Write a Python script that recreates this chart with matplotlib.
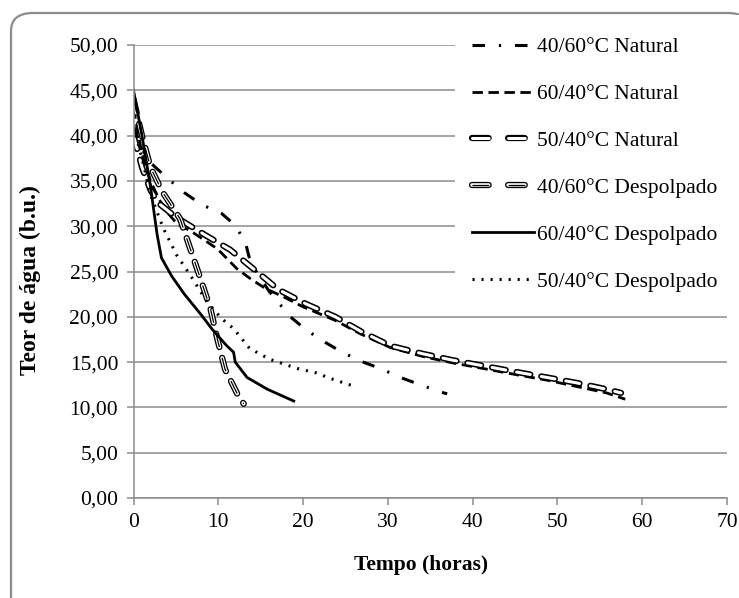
import matplotlib
matplotlib.use("Agg")
import matplotlib.pyplot as plt
from matplotlib.lines import Line2D
from matplotlib.patches import FancyBboxPatch, Rectangle
from matplotlib.ticker import FuncFormatter, MultipleLocator

plt.rcParams["font.family"] = ["Liberation Serif", "DejaVu Serif"]
plt.rcParams["lines.scale_dashes"] = False

# --- data (tempo em horas, teor de agua b.u.) ---
nat_4060_x = [0, 1, 2, 4, 6, 8, 10.4, 12, 13.2, 13.8, 16, 18.5, 20.3, 22.4, 24.4, 26.8, 29.1, 31.5, 33.8, 36.2, 37]
nat_4060_y = [41, 38.5, 37, 35.3, 33.7, 32.4, 31.4, 30.1, 28.2, 26, 22.8, 20, 18.6, 17.3, 16.2, 15.1, 14.3, 13.3, 12.5, 11.7, 11.5]

nat_6040_x = [0, 1, 2, 3, 4, 5.2, 6.7, 9.9, 12.2, 13.8, 15.6, 17.7, 20, 23.8, 26.8, 30.3, 34.2, 37.7, 41.2, 45.2, 48.8, 52.3, 55.8, 58]
nat_6040_y = [43, 38, 35, 33, 31.5, 30.2, 29.5, 27.5, 25.3, 24.2, 23.1, 22.2, 21.1, 19.6, 18.1, 16.6, 15.6, 14.9, 14.3, 13.6, 13.0, 12.3, 11.6, 10.9]

nat_5040_x = [0, 1, 2, 3, 5, 8.5, 11.4, 14, 17.1, 20.4, 23.8, 26.8, 30.3, 34.2, 37.7, 41.2, 45.2, 48.8, 52.3, 55.8, 57.5]
nat_5040_y = [40, 36.5, 34, 32.5, 31, 29, 27.4, 25.4, 23, 21.4, 20, 18.4, 16.8, 15.9, 15.2, 14.6, 13.9, 13.3, 12.7, 12.0, 11.6]

desp_4060_x = [0, 1, 2, 3.4, 5.5, 6.7, 7.9, 9.1, 9.9, 10.8, 12.4, 13]
desp_4060_y = [44, 40, 36.5, 33.8, 30.8, 27.5, 24.2, 20.8, 17.5, 14.2, 11.2, 10.4]

desp_6040_x = [0, 1, 2, 2.5, 2.8, 3.3, 4.5, 6, 8, 9.3, 11, 11.8, 12, 13.4, 15.8, 18.9]
desp_6040_y = [45, 40, 34.4, 31, 29, 26.5, 24.5, 22.5, 20.2, 18.6, 16.8, 16.1, 15, 13.3, 12, 10.7]

desp_5040_x = [0, 1, 2, 3.5, 5.1, 6.7, 8.7, 10.4, 11.8, 13.7, 16.1, 19.3, 21.6, 23.2, 25.8]
desp_5040_y = [41, 37.5, 33.5, 29.8, 26.8, 24.6, 21.6, 19.8, 18.7, 16.5, 15.3, 14.3, 13.8, 13.2, 12.4]

labels = ["40/60°C Natural", "60/40°C Natural", "50/40°C Natural",
          "40/60°C Despolpado", "60/40°C Despolpado", "50/40°C Despolpado"]

DASHDOT = (9, 10, 1.6, 10)
DASHED = (7.5, 4)
DOTTED = (1.5, 5)
HOLLOW = (10, 8)
HOLLOW_LEG = (12, 14)

fig = plt.figure(figsize=(7.39, 5.98), dpi=100)
fig.patches.append(FancyBboxPatch((11 / 739, -0.05), 1.0, 1 - 13 / 598 + 0.05,
                                  boxstyle="round,pad=0,rounding_size=0.03",
                                  transform=fig.transFigure, fc="white", ec="#8c8c8c",
                                  lw=1.6, zorder=-10))
ax = fig.add_axes([133.5 / 739, 100 / 598, 593.5 / 739, 453 / 598])
ax.set_facecolor("none")


def hollow(x, y, middle=False):
    ax.plot(x, y, color="black", lw=4.5, dashes=HOLLOW, dash_capstyle="round")
    ax.plot(x, y, color="white", lw=2.2 if not middle else 2.6, dashes=HOLLOW, dash_capstyle="round")
    if middle:
        ax.plot(x, y, color="black", lw=0.9, dashes=HOLLOW, dash_capstyle="butt")


ax.plot(nat_4060_x, nat_4060_y, color="black", lw=2.2, dashes=DASHDOT)
ax.plot(nat_6040_x, nat_6040_y, color="black", lw=2.0, dashes=DASHED)
hollow(nat_5040_x, nat_5040_y)
hollow(desp_4060_x, desp_4060_y, middle=True)
ax.plot(desp_6040_x, desp_6040_y, color="black", lw=2.0)
ax.plot(desp_5040_x, desp_5040_y, color="black", lw=2.2, dashes=DOTTED)

# white block behind the legend: the gridlines stop there in the reference
ax.add_patch(Rectangle((455 / 739, 1 - 300 / 598), 0.4, 285 / 598, transform=fig.transFigure,
                       fc="white", ec="none", zorder=1, clip_on=False))


def leg_hollow(middle=False):
    parts = [Line2D([], [], color="black", lw=4.5, dashes=HOLLOW_LEG, dash_capstyle="round"),
             Line2D([], [], color="white", lw=2.2 if not middle else 2.6, dashes=HOLLOW_LEG,
                    dash_capstyle="round")]
    if middle:
        parts.append(Line2D([], [], color="black", lw=0.9, dashes=HOLLOW_LEG))
    return tuple(parts)


handles = [Line2D([], [], color="black", lw=2.2, dashes=DASHDOT),
           Line2D([], [], color="black", lw=2.0, dashes=DASHED),
           leg_hollow(),
           leg_hollow(middle=True),
           Line2D([], [], color="black", lw=2.0),
           Line2D([], [], color="black", lw=2.2, dashes=DOTTED)]

ax.set_xlim(0, 70)
ax.set_ylim(0, 50)
ax.xaxis.set_major_locator(MultipleLocator(10))
ax.yaxis.set_major_locator(MultipleLocator(5))
ax.yaxis.set_major_formatter(FuncFormatter(lambda v, p: f"{v:.2f}".replace(".", ",")))
ax.grid(axis="y", color="#8c8c8c", lw=1.1)
ax.set_axisbelow(True)
for s in ["top", "right"]:
    ax.spines[s].set_visible(False)
for s in ["left", "bottom"]:
    ax.spines[s].set_color("#8c8c8c")
    ax.spines[s].set_linewidth(1.1)
ax.tick_params(colors="#8c8c8c", labelcolor="black", labelsize=15.5, length=5, width=1.1)
ax.tick_params(axis="x", pad=6)
ax.tick_params(axis="y", pad=6)

ax.set_xlabel("Tempo (horas)", fontsize=15.5, fontweight="bold")
ax.xaxis.set_label_coords((421 - 133.5) / 593.5, -0.125)
ax.set_ylabel("Teor de água (b.u.)", fontsize=17, fontweight="bold")
ax.yaxis.set_label_coords(-0.156, 0.481)

fig.legend(handles, labels, loc="upper left", bbox_to_anchor=(472 / 739, 1 - 37 / 598),
           fontsize=15.5, frameon=False, handlelength=2.9, handletextpad=0.1,
           labelspacing=1.25, borderpad=0, borderaxespad=0)

fig.savefig("out.png", dpi=100)
